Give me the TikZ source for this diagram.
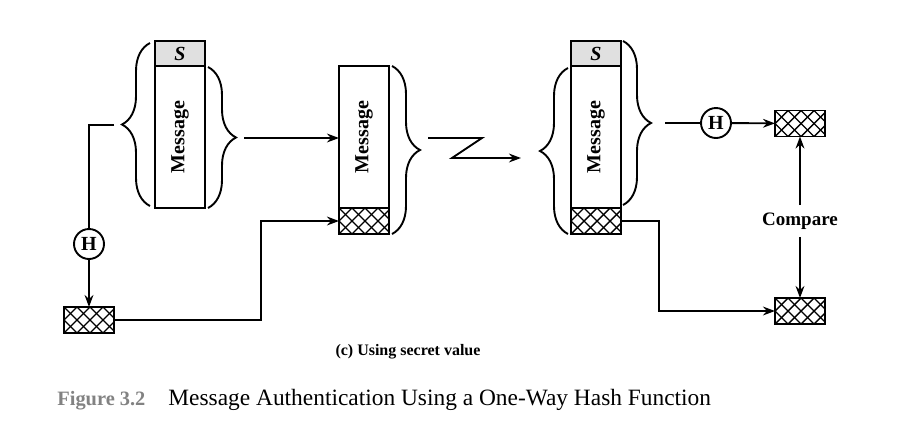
\documentclass[tikz,border=0pt]{standalone}
\usepackage{fontspec}
\setmainfont{Liberation Serif}
\usepackage{tikz}
\usetikzlibrary{arrows.meta, positioning, decorations.pathreplacing}
\definecolor{secretgray}{RGB}{224,224,224}
\definecolor{figgray}{RGB}{130,130,130}
\tikzset{
    field/.style={rectangle, draw, line width=0.95pt, minimum width=25pt, inner sep=0pt, outer sep=0pt},
    secret/.style={field, minimum height=12.5pt, fill=secretgray, font=\bfseries\itshape\fontsize{10}{12}\selectfont},
    msgbox/.style={field, minimum height=71pt, font=\bfseries\fontsize{10}{12}\selectfont},
    hashbox/.style={field, minimum height=13pt, path picture={
        \foreach \k in {-2,...,4}
            \draw[line width=0.7pt] ([xshift=\k*6.5pt]path picture bounding box.south west) -- ++(14pt,14pt);
        \foreach \k in {0,...,6}
            \draw[line width=0.7pt] ([xshift=\k*6.5pt]path picture bounding box.south west) -- ++(-14pt,14pt);
    }},
    hfunc/.style={circle, draw, line width=0.95pt, minimum size=15pt, inner sep=0pt, font=\bfseries\fontsize{10}{11}\selectfont},
    curly/.style={decorate, decoration={brace, amplitude=14pt}, line width=0.95pt},
    flow/.style={-{Stealth[length=6pt,width=4.4pt]}, line width=0.95pt},
    wire/.style={line width=0.95pt}
}

\begin{document}
\begin{tikzpicture}[
    x=0.5pt, y=-0.5pt,
    label/.style={font=\bfseries\fontsize{9.5}{11}\selectfont, inner xsep=1pt, inner ysep=3.6pt}
]
    \useasboundingbox (0,0) rectangle (906,440);

    % Sender: secret value prepended to the message
    \node[msgbox] (msg1) at (180,137) {\rotatebox{90}{Message}};
    \node[secret, above=0pt of msg1] (secret1) {S};
    \draw[curly] (150,206) -- (150,43);
    \draw[curly] (208,67) -- (208,208);
    \coordinate (b1l) at (114,125);
    \coordinate (b1r) at (244,138);

    % Hash of message + secret
    \node[hfunc] (h1) at (89,244) {H};
    \node[hashbox] (hashA) at (89,320) {};

    % Transmitted message with hash appended
    \node[msgbox] (msg2) at (364,137) {\rotatebox{90}{Message}};
    \node[hashbox, below=0pt of msg2] (hash2) {};
    \draw[curly] (392,66) -- (392,234);
    \coordinate (zigA) at (428,138);
    \coordinate (zigB) at (521,158);

    % Receiver
    \node[msgbox] (msg3) at (596,137) {\rotatebox{90}{Message}};
    \node[secret, above=0pt of msg3] (secret3) {S};
    \node[hashbox, below=0pt of msg3] (hash3) {};
    \draw[curly] (568,234) -- (568,68);
    \draw[curly] (623,41) -- (623,205);
    \coordinate (b3r) at (665,123);

    \node[hfunc] (h2) at (716,123) {H};
    \node[hashbox] (hashT) at (800,123.5) {};
    \node[hashbox] (hashB) at (800,311) {};
    \node[label] (compare) at (800,221) {Compare};

    % Connectors
    \draw[wire] (b1l) -| (h1.north);
    \draw[flow] (h1) -- (hashA);
    \draw[flow] (hashA.east) -- ++(147,0) |- (hash2.west);
    \draw[flow] (b1r) -- (b1r -| msg2.west);
    \draw[flow] (zigA) -- (482,138) -- (452,158) -- (zigB);
    \draw[wire] (b3r) -- (h2);
    \draw[flow] (h2) -- (hashT);
    \draw[flow] (hash3.east) -- ++(38,0) |- (hashB.west);
    \draw[flow] (compare) -- (hashT);
    \draw[flow] (compare) -- (hashB);

    % Captions
    \node[font=\bfseries\fontsize{8}{10}\selectfont] (subcap) at (408,352) {(c) Using secret value};
    \node[anchor=base west, text=figgray, font=\bfseries\fontsize{10.2}{12}\selectfont, inner sep=0pt] (figno) at (57,405) {Figure 3.2};
    \node[anchor=base west, font=\fontsize{11.7}{14}\selectfont, inner sep=0pt] (figtitle) at (168,405) {Message Authentication Using a One-Way Hash Function};
\end{tikzpicture}
\end{document}
